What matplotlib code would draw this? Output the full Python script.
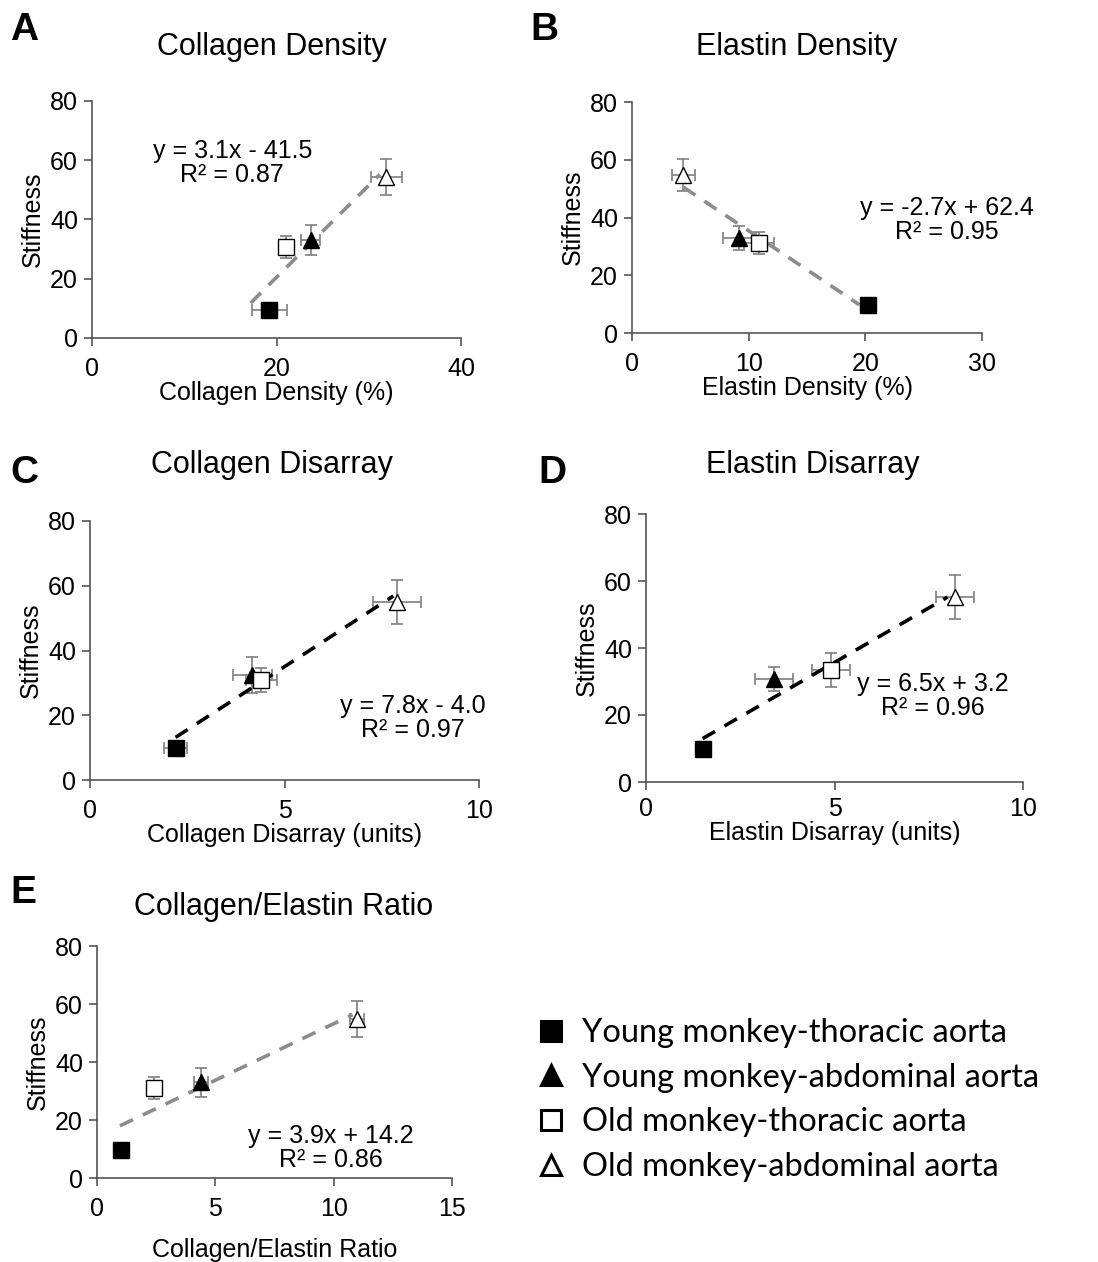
import matplotlib.pyplot as plt
from matplotlib.lines import Line2D

plt.rcParams['font.family'] = ['Liberation Sans', 'DejaVu Sans']

groups = ["Young monkey-thoracic aorta", "Young monkey-abdominal aorta",
          "Old monkey-thoracic aorta", "Old monkey-abdominal aorta"]
markers = ["s", "^", "s", "^"]
faces = ["black", "black", "white", "white"]

# panel A - collagen density
colden_x = [19.2, 23.7, 21.0, 31.9]
colden_xerr = [1.9, 1.0, 0.6, 1.7]
colden_y = [9.5, 33.0, 30.7, 54.4]
colden_yerr = [0.8, 5.0, 3.7, 6.0]
colden_fit = (3.1, -41.5, 0.87)
colden_fitx = [17.2, 31.2]

# panel B - elastin density
elden_x = [20.2, 9.2, 10.9, 4.4]
elden_xerr = [0.3, 1.4, 1.3, 1.0]
elden_y = [9.7, 32.9, 31.2, 54.7]
elden_yerr = [0.5, 4.3, 3.7, 5.6]
elden_fit = (-2.7, 62.4, 0.95)
elden_fitx = [4.4, 19.5]

# panel C - collagen disarray
coldis_x = [2.2, 4.17, 4.4, 7.9]
coldis_xerr = [0.3, 0.5, 0.4, 0.62]
coldis_y = [9.9, 32.4, 30.9, 55.0]
coldis_yerr = [0.5, 5.6, 3.6, 6.7]
coldis_fit = (7.8, -4.0, 0.97)
coldis_fitx = [2.2, 7.8]

# panel D - elastin disarray
eldis_x = [1.5, 3.4, 4.9, 8.2]
eldis_xerr = [0.1, 0.5, 0.5, 0.5]
eldis_y = [9.9, 30.7, 33.4, 55.3]
eldis_yerr = [0.5, 3.6, 5.0, 6.6]
eldis_fit = (6.5, 3.2, 0.96)
eldis_fitx = [1.5, 8.0]

# panel E - collagen/elastin ratio
ratio_x = [1.0, 4.4, 2.4, 11.0]
ratio_xerr = [0.1, 0.3, 0.1, 0.3]
ratio_y = [9.6, 33.0, 31.0, 54.8]
ratio_yerr = [0.5, 5.0, 3.8, 6.2]
ratio_fit = (3.9, 14.2, 0.86)
ratio_fitx = [0.97, 10.8]

W, H = 1098, 1262
fig = plt.figure(figsize=(W / 100, H / 100), dpi=100)


def px_axes(l, r, t, b):
    return fig.add_axes([l / W, 1 - b / H, (r - l) / W, (b - t) / H])


panels = [
    dict(box=(92, 461, 101, 338), x=colden_x, xe=colden_xerr, y=colden_y, ye=colden_yerr,
         fit=colden_fit, fx=colden_fitx, lc="#8c8c8c", xmax=40, xt=[0, 20, 40],
         xlabel="Collagen Density (%)", title="Collagen Density", tpos=(0.38, 0.74),
         letter="A", lpos=(10, 30), ttl=(272, 47), xlpad=0, tpad=8),
    dict(box=(632, 982, 102, 333), x=elden_x, xe=elden_xerr, y=elden_y, ye=elden_yerr,
         fit=elden_fit, fx=elden_fitx, lc="#8c8c8c", xmax=30, xt=[0, 10, 20, 30],
         xlabel="Elastin Density (%)", title="Elastin Density", tpos=(0.90, 0.49),
         letter="B", lpos=(530, 30), ttl=(797, 47), xlpad=0, tpad=8),
    dict(box=(90, 479, 521, 780), x=coldis_x, xe=coldis_xerr, y=coldis_y, ye=coldis_yerr,
         fit=coldis_fit, fx=coldis_fitx, lc="black", xmax=10, xt=[0, 5, 10],
         xlabel="Collagen Disarray (units)", title="Collagen Disarray", tpos=(0.83, 0.24),
         letter="C", lpos=(10, 473), ttl=(272, 465), xlpad=0, tpad=8),
    dict(box=(646, 1023, 514, 782), x=eldis_x, xe=eldis_xerr, y=eldis_y, ye=eldis_yerr,
         fit=eldis_fit, fx=eldis_fitx, lc="black", xmax=10, xt=[0, 5, 10],
         xlabel="Elastin Disarray (units)", title="Elastin Disarray", tpos=(0.76, 0.32),
         letter="D", lpos=(538, 473), ttl=(813, 465), xlpad=0, tpad=5),
    dict(box=(97, 452, 946, 1178), x=ratio_x, xe=ratio_xerr, y=ratio_y, ye=ratio_yerr,
         fit=ratio_fit, fx=ratio_fitx, lc="#8c8c8c", xmax=15, xt=[0, 5, 10, 15],
         xlabel="Collagen/Elastin Ratio", title="Collagen/Elastin Ratio", tpos=(0.66, 0.13),
         letter="E", lpos=(10, 893), ttl=(284, 907), xlpad=12, tpad=8),
]

for p in panels:
    ax = px_axes(*p["box"])
    for i in range(4):
        ax.errorbar(p["x"][i], p["y"][i], xerr=p["xe"][i], yerr=p["ye"][i],
                    fmt="none", ecolor="#7f7f7f", elinewidth=1.2, capsize=4, capthick=1.2, zorder=2)
    m, c, r2 = p["fit"]
    fy = [m * v + c for v in p["fx"]]
    ax.plot(p["fx"], fy, color=p["lc"], lw=2.6, ls=(0, (4, 3)), zorder=3)
    for i in range(4):
        ax.plot(p["x"][i], p["y"][i], marker=markers[i], ms=11.5,
                mfc=faces[i], mec="black", mew=1.0, ls="none", zorder=4)
    sign = "-" if c < 0 else "+"
    ax.text(p["tpos"][0], p["tpos"][1], f"y = {m:.1f}x {sign} {abs(c):.1f}\nR² = {r2:.2f}",
            transform=ax.transAxes, ha="center", va="center", fontsize=18, linespacing=1.0)
    ax.set_xlim(0, p["xmax"])
    ax.set_ylim(0, 80)
    ax.set_xticks(p["xt"])
    ax.set_yticks([0, 20, 40, 60, 80])
    ax.spines["top"].set_visible(False)
    ax.spines["right"].set_visible(False)
    for s in ("left", "bottom"):
        ax.spines[s].set_color("#555555")
        ax.spines[s].set_linewidth(1.2)
    ax.tick_params(direction="out", length=6, width=1.2, color="#555555", labelsize=18, pad=4)
    ax.tick_params(axis="x", pad=p["tpad"])
    ax.set_xlabel(p["xlabel"], fontsize=18, labelpad=p["xlpad"])
    ax.set_ylabel("Stiffness", fontsize=18, labelpad=4)
    fig.text(p["ttl"][0] / W, 1 - p["ttl"][1] / H, p["title"], ha="center", va="center", fontsize=22)
    fig.text(p["lpos"][0] / W, 1 - p["lpos"][1] / H, p["letter"], ha="left", va="center",
             fontsize=28, fontweight="bold")

handles = [Line2D([], [], marker=markers[i], ms=15, mfc=faces[i], mec="black", mew=2.2, ls="none")
           for i in range(4)]
fig.legend(handles, groups, loc="upper left", bbox_to_anchor=(522 / W, 1 - 1005 / H),
           frameon=False, prop={"family": "Lato", "size": 23.5}, handletextpad=0.45,
           labelspacing=0.45, borderaxespad=0, handlelength=1.0)

fig.savefig("out.png", dpi=100)
